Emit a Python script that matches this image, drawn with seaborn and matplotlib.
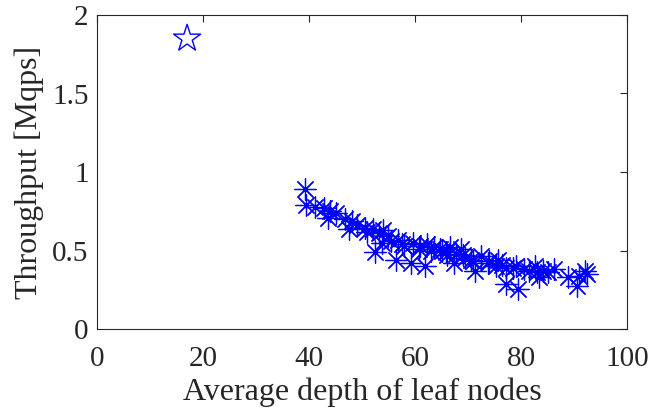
import matplotlib
matplotlib.use("Agg")
import matplotlib.pyplot as plt
import seaborn as sns
import pandas as pd

depth = [39.2, 39.4, 41.2, 42.8, 44.0, 43.5, 45.1, 46.7, 48.2, 47.5, 49.0, 50.6,
         52.0, 53.3, 52.5, 53.7, 54.9, 56.5, 56.8, 58.0, 59.2, 59.6, 60.7, 61.9,
         62.3, 63.5, 64.7, 65.8, 66.6, 67.4, 67.8, 68.6, 69.4, 70.5, 71.3, 72.5,
         73.7, 75.2, 75.6, 77.2, 77.2, 79.1, 79.5, 81.5, 82.6, 83.4, 84.2, 86.2,
         88.9, 90.5, 90.9, 92.0, 92.4,
         51.0, 54.0, 55.5, 57.5, 61.0, 63.0, 65.0, 66.0, 69.0, 71.0, 74.0, 76.5,
         78.5, 80.5, 83.0, 85.0]
throughput = [0.89, 0.79, 0.78, 0.77, 0.75, 0.71, 0.74, 0.70, 0.69, 0.64, 0.66, 0.645,
              0.635, 0.61, 0.49, 0.55, 0.59, 0.44, 0.57, 0.53, 0.42, 0.55, 0.51, 0.40,
              0.54, 0.52, 0.51, 0.49, 0.52, 0.42, 0.48, 0.51, 0.455, 0.44, 0.37, 0.465,
              0.42, 0.40, 0.44, 0.39, 0.285, 0.40, 0.255, 0.37, 0.40, 0.33, 0.37, 0.38,
              0.33, 0.275, 0.34, 0.37, 0.35,
              0.62, 0.63, 0.56, 0.54, 0.53, 0.50, 0.50, 0.47, 0.47, 0.43, 0.43, 0.41,
              0.39, 0.38, 0.36, 0.36]

star_depth = [17.0]
star_throughput = [1.85]

df = pd.DataFrame({"depth": depth, "throughput": throughput})
df_star = pd.DataFrame({"depth": star_depth, "throughput": star_throughput})

sns.set_style("white")
plt.rcParams['font.family'] = ['Liberation Serif', 'DejaVu Serif']

fig = plt.figure(figsize=(6.49, 4.15), dpi=100)
ax = fig.add_axes([97/649, 1 - 329/415, (627-97)/649, (329-15)/415])

sns.scatterplot(data=df, x="depth", y="throughput", ax=ax, marker=(8, 2, 0),
                s=240, color="#0000ff", edgecolor="#0000ff", linewidth=0.9)
sns.scatterplot(data=df_star, x="depth", y="throughput", ax=ax, marker="*",
                s=420, facecolor="none", edgecolor="#0000ff", linewidth=1.0)

ax.set_xlim(0, 100)
ax.set_ylim(0, 2)
ax.set_xticks([0, 20, 40, 60, 80, 100])
ax.set_yticks([0, 0.5, 1, 1.5, 2])
ax.set_yticklabels(["0", "0.5", "1", "1.5", "2"])
ax.tick_params(direction="in", top=True, right=True, length=5, width=0.8,
               labelsize=21, colors="#262626", pad=6)
ax.tick_params(axis="x", pad=12)
for sp in ax.spines.values():
    sp.set_visible(True)
    sp.set_color("#262626")
    sp.set_linewidth(0.8)
ax.set_xlabel("Average depth of leaf nodes", fontsize=23, color="#262626", labelpad=4)
ax.set_ylabel("Throughput [Mqps]", fontsize=23, color="#262626", labelpad=6)

fig.savefig("out.png", dpi=100)
